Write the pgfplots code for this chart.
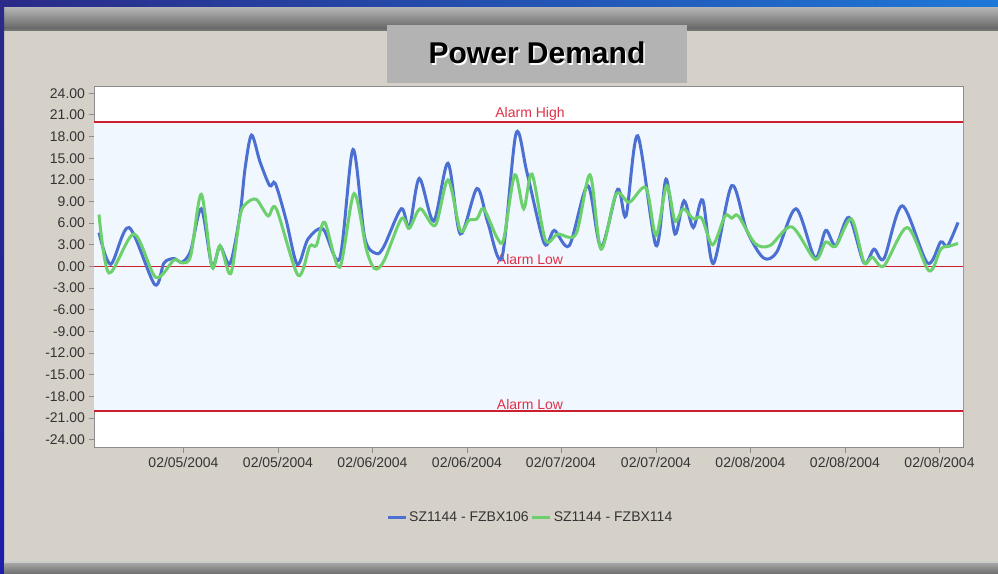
\documentclass[border=0pt]{standalone}
\usepackage{pgfplots}
\pgfplotsset{compat=1.18}
\usepackage{fontspec}
\setmainfont{Liberation Sans}
\definecolor{panel}{HTML}{D5D1C9}
\definecolor{band}{HTML}{F0F7FE}
\definecolor{alarm}{HTML}{CC2030}
\definecolor{alarmtext}{HTML}{E03048}
\definecolor{blueline}{HTML}{4C6FD2}
\definecolor{greenline}{HTML}{6CD06C}
\definecolor{titlebox}{HTML}{B3B3B3}
\definecolor{navyA}{HTML}{2A2A88}
\definecolor{navyB}{HTML}{1E78D8}
\definecolor{ticktext}{HTML}{333333}
\begin{document}
\begin{tikzpicture}[x=1pt,y=1pt]
\useasboundingbox (0,0) rectangle (998,573);
% background panel and frame
\fill[panel] (0,0) rectangle (998,573);
\shade[left color=navyA, right color=navyB] (0,565) rectangle (998,573);
\shade[top color=black!30, bottom color=black!62] (4,543) rectangle (998,565);
\fill[black!55] (4,542) rectangle (998,543.5);
\shade[top color=navyA, bottom color=navyA!70!blue] (0,0) rectangle (4,565);
\shade[top color=black!35, bottom color=black!55] (4,0) rectangle (998,10);
\fill[black!20] (4,10) rectangle (998,12);
% title box
\fill[titlebox] (387,490) rectangle (687,548);
\node[font=\fontsize{30}{34}\selectfont\bfseries, text=white] at (538.5,518.3) {Power Demand};
\node[font=\fontsize{30}{34}\selectfont\bfseries, text=black] at (537,520) {Power Demand};
\begin{axis}[
  at={(94pt,126pt)}, anchor=south west,
  scale only axis, width=869pt, height=361pt,
  xmin=94, xmax=963, ymin=-25, ymax=25,
  axis background/.style={fill=white},
  axis line style={draw=black!45},
  xtick={183.5,278,372.5,467,561,656,750.5,845,939.5},
  xticklabels={02/05/2004,02/05/2004,02/06/2004,02/06/2004,02/07/2004,02/07/2004,02/08/2004,02/08/2004,02/08/2004},
  ytick={-24,-21,...,24},
  xtick pos=lower, ytick pos=left,
  tick align=outside, major tick length=5.5pt,
  tick style={black!45, line width=0.8pt},
  /pgf/number format/assume math mode=true,
  yticklabel style={/pgf/number format/.cd, fixed, fixed zerofill, precision=2},
  ticklabel style={font=\fontsize{14}{16}\selectfont, text=ticktext},
  xticklabel style={yshift=-1pt},
  legend style={at={(0.502,-0.194)}, anchor=center, draw=none, fill=none,
    font=\fontsize{14}{16}\selectfont, text=ticktext, legend columns=2,
    /tikz/every even column/.append style={column sep=0pt},
    inner sep=0pt},
  legend cell align=left,
  legend image code/.code={\draw[#1, line width=3pt] (0pt,0pt) -- (18pt,0pt);},
]
\addplot[draw=none, fill=band, forget plot] coordinates {(94,-20) (963,-20) (963,20) (94,20) (94,-20)};
\addplot[alarm, line width=1.6pt, forget plot] coordinates {(94,20) (963,20)};
\addplot[alarm, line width=1.6pt, forget plot] coordinates {(94,0) (963,0)};
\addplot[alarm, line width=1.6pt, forget plot] coordinates {(94,-20) (963,-20)};
\node[font=\fontsize{14}{16}\selectfont, text=alarmtext, anchor=south, inner sep=1.5pt] at (axis cs:530,20) {Alarm High};
\node[font=\fontsize{14}{16}\selectfont, text=alarmtext, anchor=south, inner sep=1.5pt] at (axis cs:530,0) {Alarm Low};
\node[font=\fontsize{14}{16}\selectfont, text=alarmtext, anchor=south, inner sep=1.5pt] at (axis cs:530,-20) {Alarm Low};
\addplot[blueline, line width=3pt, smooth, tension=0.5] coordinates {
(99,4.7) (110.7,0.3) (129,5.4) (154.7,-2.5) (164,0.5) (174,1.1) (182,0.6) (190.7,2.2)
(201.3,8.0) (212,0.1) (220,2.8) (230,0.4) (240,7.2) (245,13.5) (251.5,18.2) (260,14.5)
(269.7,11.2) (275.3,11.5) (286,6.5) (297.3,0.3) (308,3.8) (323,5.2) (339.7,1.1)
(353,16.2) (364.7,4.0) (376.3,1.8) (384,2.8) (401.3,8.0) (409.3,5.4) (419.3,12.2)
(433.7,6.3) (448,14.3) (460.3,4.5) (477,10.8) (488,6) (502,1.3) (516,18.4) (527,13)
(544.3,3.2) (554.3,5.0) (569.3,2.9) (587.7,11.2) (601,2.7) (617.7,10.7) (626,7.0)
(637.7,18.1) (656,2.9) (666,12.1) (675,4.5) (684,9.1) (693.3,5.4) (702.7,9.2)
(713.3,0.4) (731.7,11.2) (746.7,5.0) (763.3,1.2) (776.7,2.0) (796,8.0) (815,1.2)
(825.7,5.0) (835.7,2.9) (849,6.8) (864,0.5) (874,2.4) (884,1.1) (902.3,8.4)
(927.3,0.5) (940.7,3.4) (947.3,2.8) (958,6.1)
};
\addlegendentry{SZ1144 - FZBX106}
\addplot[greenline, line width=3pt, smooth, tension=0.5] coordinates {
(99,7.2) (109,-0.9) (134,4.5) (155.7,-1.5) (174,0.9) (182,0.5) (190.7,1.5)
(201.3,10.0) (212,-0.1) (220,2.9) (230.7,-1.0) (240,7.0) (246,8.7) (256.3,9.3)
(268,7.0) (276.3,8.0) (298,-1.2) (309.7,2.8) (316.3,2.9) (324.7,6.1) (339.7,-0.1)
(354,10.1) (366.3,2.4) (374.7,-0.3) (384,0.8) (401.3,6.6) (409.3,5.3) (420.3,8.0)
(435.3,5.7) (448,12.0) (460.3,5.0) (468.7,6.4) (477,6.6) (483.7,8.0) (497,4.0)
(503.7,3.8) (514.7,12.7) (523.7,8.0) (532,12.8) (545.3,3.7) (557.7,4.5) (576,4.5)
(590,12.7) (601,2.4) (616,10.0) (629.3,8.9) (646,10.9) (656,4.3) (666.7,11.2)
(675,6.3) (683.3,8.0) (693.3,6.6) (701.7,6.7) (712.7,3.0) (725,7.0) (731.7,6.7)
(738.3,7.0) (755,3.2) (770,2.9) (791.7,5.5) (815,1.0) (825.7,3.4) (835.7,2.8)
(851.3,6.6) (864,0.6) (872.3,1.3) (884,0.1) (907.3,5.4) (929,-0.6) (940.7,2.4)
(949,2.8) (958,3.2)
};
\addlegendentry{SZ1144 - FZBX114}
\end{axis}
\end{tikzpicture}
\end{document}
